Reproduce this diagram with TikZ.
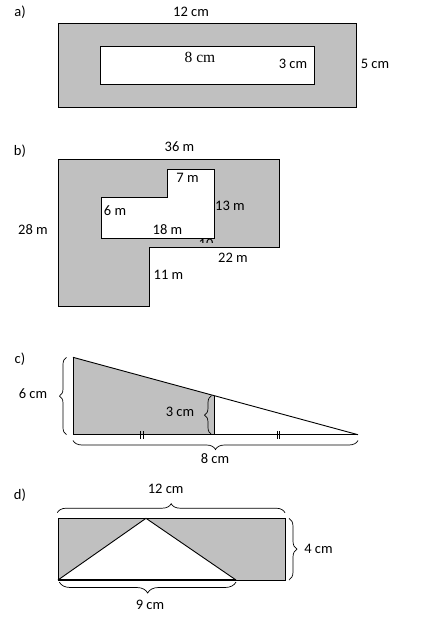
\documentclass[tikz,border=0pt]{standalone}
\usepackage{fontspec}
\setmainfont{Carlito}
\newfontfamily\serifnum{Liberation Serif}
\usetikzlibrary{decorations.pathreplacing}
\definecolor{greyfill}{RGB}{192,192,192}
\tikzset{
  lbl/.style={font=\fontsize{14.5}{17}\selectfont, inner sep=0pt},
  serlbl/.style={font=\serifnum\fontsize{15.5}{18}\selectfont, inner sep=0pt},
  outl/.style={draw=black, line width=0.9pt},
  bracex/.style={decorate, decoration={brace, amplitude=#1}, line width=0.7pt},
  tickmark/.style={line width=0.7pt}
}
\begin{document}
\begin{tikzpicture}[x=1pt,y=-1pt]
\useasboundingbox (0,0) rectangle (423,625);

% ---------- a) ----------
\node[lbl] (la) at (20,12) {a)};
\filldraw[outl, fill=greyfill] (58,23.3) rectangle (356.7,107.3);
\filldraw[outl, fill=white] (100,46) rectangle (314,84.3);
\node[lbl] (a12) at (191,12) {12 cm};
\node[serlbl] (a8) at (200,57) {8 cm};
\node[lbl] (a3) at (293,64) {3 cm};
\node[lbl] (a5) at (375,64) {5 cm};

% ---------- b) ----------
\node[lbl] (lb) at (20,151) {b)};
\filldraw[outl, fill=greyfill] (58.3,159.3) -- (279.3,159.3) -- (279.3,247.3) -- (149.3,247.3) -- (149.3,306) -- (58.3,306) -- cycle;
\filldraw[outl, fill=white] (101,197.3) -- (167.3,197.3) -- (167.3,169.3) -- (214.3,169.3) -- (214.3,238.3) -- (101,238.3) -- cycle;
\node[lbl] (b36) at (179.5,147) {36 m};
\node[lbl] (b7) at (187.5,177.7) {7 m};
\node[lbl] (b13) at (230,206) {13 m};
\node[lbl] (b6) at (115,211) {6 m};
\node[lbl] (b18) at (167.5,229.3) {18 m};
\node[lbl] (b28) at (33,229.3) {28 m};
\node[lbl] (b22) at (233,257.7) {22 m};
\node[lbl] (b11) at (168.5,275) {11 m};
\begin{scope}
  \clip (195,239.2) rectangle (220,242.2);
  \node[lbl] (b10) at (206,244) {10};
\end{scope}

% ---------- c) ----------
\node[lbl] (lc) at (20,359) {c)};
\coordinate (cA) at (73,357.3);
\coordinate (cB) at (73,434.7);
\coordinate (cC) at (358,434.7);
\coordinate (cT) at (214.3,395.7);
\coordinate (cM) at (214.3,434.7);
\fill[greyfill] (cA) -- (cT) -- (cM) -- (cB) -- cycle;
\draw[outl] (cA) -- (cC);
\draw[outl] (cA) -- (cB);
\draw[outl] (cT) -- (cM);
\draw[line width=1.3pt] (cB) -- (cC);
\draw[tickmark] (140.3,431) -- (140.3,439);
\draw[tickmark] (143,431) -- (143,439);
\draw[tickmark] (277,431) -- (277,439);
\draw[tickmark] (279.7,431) -- (279.7,439);
\draw[bracex=7pt] (66.5,434.7) -- (66.5,357.3);
\draw[bracex=7pt] (211.5,434.5) -- (211.5,395.7);
\draw[bracex=9pt] (358,440.5) -- (73,440.5);
\node[lbl] (c6) at (33,393.3) {6 cm};
\node[lbl] (c3) at (180,411.7) {3 cm};
\node[lbl] (c8) at (215,459) {8 cm};

% ---------- d) ----------
\node[lbl] (ld) at (20,495) {d)};
\coordinate (dA) at (58,518.3);
\coordinate (dB) at (285.7,580);
\coordinate (dL) at (58,580);
\coordinate (dP) at (146,518.3);
\coordinate (dR) at (236,580);
\filldraw[outl, fill=greyfill] (dA) rectangle (dB);
\filldraw[fill=white, draw=none] (dL) -- (dP) -- (dR) -- cycle;
\draw[outl] (dL) -- (dP) -- (dR);
\draw[line width=1.5pt] (dL) -- (dR);
\draw[bracex=9pt] (57.3,512.7) -- (285,512.7);
\draw[bracex=8pt] (289,518.3) -- (289,580);
\draw[bracex=11pt] (236,582) -- (59.3,582);
\node[lbl] (d12) at (165.7,489) {12 cm};
\node[lbl] (d4) at (318.5,549.3) {4 cm};
\node[lbl] (d9) at (150,605) {9 cm};
\end{tikzpicture}
\end{document}
